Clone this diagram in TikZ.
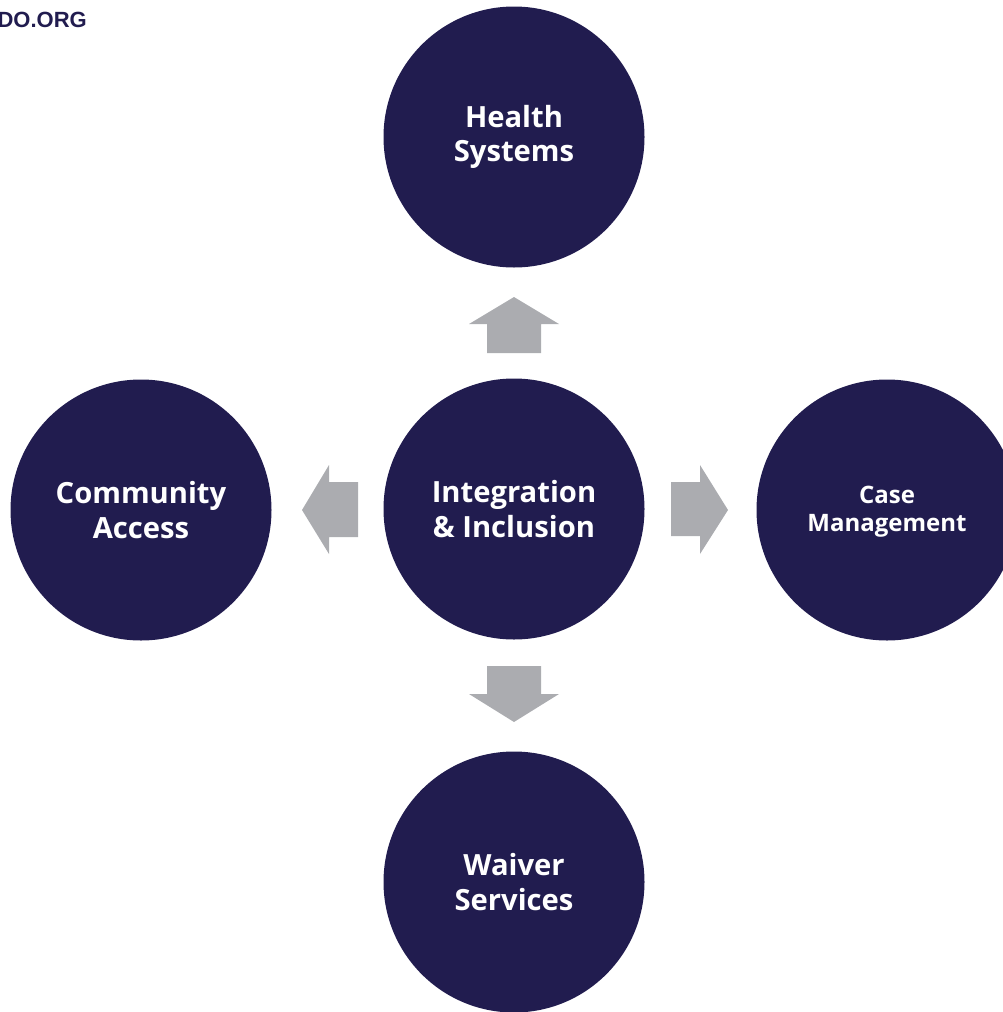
\documentclass[tikz,border=0pt]{standalone}
\usepackage{fontspec}
\setmainfont{Open Sans}
\newfontfamily\webfont{Liberation Sans}
\definecolor{navy}{HTML}{211C4F}
\definecolor{arrowgray}{HTML}{ABACB0}
\begin{document}
\begin{tikzpicture}[x=1pt,y=-1pt,
  topic/.style={circle,fill=navy,minimum size=261pt,inner sep=0pt,
    text=white,align=center,font=\bfseries\fontsize{29.2}{34.5}\selectfont},
  blockarrow/.style={fill=arrowgray}]
\useasboundingbox (0,0) rectangle (1003,1012);
\clip (0,0) rectangle (1003,1012);

% circles
\node[topic] (center) at (514,509) {Integration\\\& Inclusion};
\node[topic] (health) at (514,137) {Health\\Systems};
\node[topic] (community) at (141,510) {Community\\Access};
\node[topic] (waiver) at (514,882) {Waiver\\Services};
\node[topic] (case) at (887,510) {};
\node[align=center,text=white,font=\bfseries\fontsize{24}{28}\selectfont] (caselabel) at (887,512) {Case\\Management};

% block arrows from the centre outwards
\fill[blockarrow] (487,353) -- (487,324) -- (469,324) -- (514,297) -- (559,324) -- (541,324) -- (541,353) -- cycle;
\fill[blockarrow] (487,666) -- (487,694) -- (469,694) -- (514,722) -- (559,694) -- (541,694) -- (541,666) -- cycle;
\fill[blockarrow] (358,482) -- (329,482) -- (329,465) -- (302,510) -- (329,554) -- (329,537) -- (358,537) -- cycle;
\fill[blockarrow] (671,482) -- (700,482) -- (700,465) -- (728,510) -- (700,554) -- (700,536) -- (671,536) -- cycle;

% web address in the corner
\node[anchor=base east,inner sep=0pt,text=navy,font=\webfont\bfseries\fontsize{22}{26}\selectfont] (web) at (87,27) {DO.ORG};
\end{tikzpicture}
\end{document}
